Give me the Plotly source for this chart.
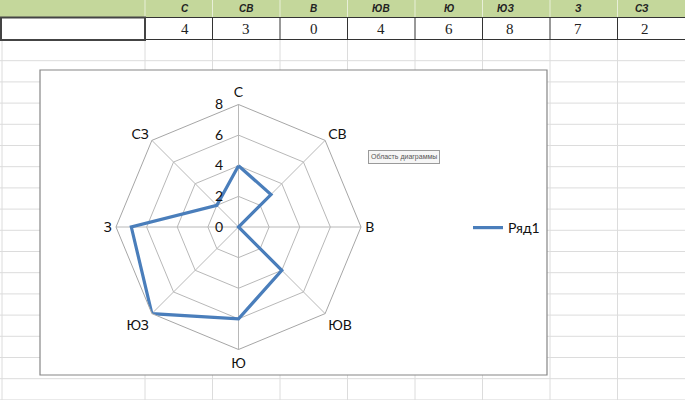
import plotly.graph_objects as go

# ---- data ----
directions = ["С", "СВ", "В", "ЮВ", "Ю", "ЮЗ", "З", "СЗ"]
values = [4, 3, 0, 4, 6, 8, 7, 2]
series_name = "Ряд1"
radial_ticks = [0, 2, 4, 6, 8]

W, H = 685, 400
def px(x): return x / W
def py(y): return 1 - y / H

fig = go.Figure()

# radar chart series (closed polygon)
fig.add_trace(go.Scatterpolar(
    r=values + values[:1],
    theta=directions + directions[:1],
    mode="lines",
    name=series_name,
    line=dict(color="#4a7ebb", width=3.2),
))

shapes = []
annotations = []
# spreadsheet gridlines
y = 60.7
while y < H:
    shapes.append(dict(type="line", xref="paper", yref="paper", x0=0, x1=1,
                       y0=py(y), y1=py(y), line=dict(color="#dcdcdc", width=1), layer="below"))
    y += 21.2
col_edges = [145 + 67.5 * i for i in range(len(directions) + 1)]
for x in [2] + col_edges[:-1]:
    shapes.append(dict(type="line", xref="paper", yref="paper", x0=px(x), x1=px(x),
                       y0=0, y1=py(40), line=dict(color="#dcdcdc", width=1), layer="below"))
# header row
shapes.append(dict(type="rect", xref="paper", yref="paper", x0=0, x1=1,
                   y0=py(17), y1=1, line=dict(width=0), fillcolor="#c4d79b", layer="below"))
for x in [145] + col_edges[1:-1]:
    shapes.append(dict(type="line", xref="paper", yref="paper", x0=px(x), x1=px(x),
                       y0=py(17), y1=1, line=dict(color="#e8efd8", width=1), layer="below"))
# value row borders
shapes.append(dict(type="line", xref="paper", yref="paper", x0=0, x1=1,
                   y0=py(17.5), y1=py(17.5), line=dict(color="#333", width=1), layer="below"))
shapes.append(dict(type="line", xref="paper", yref="paper", x0=0, x1=1,
                   y0=py(39.5), y1=py(39.5), line=dict(color="#333", width=1), layer="below"))
for x in col_edges[1:-1]:
    shapes.append(dict(type="line", xref="paper", yref="paper", x0=px(x), x1=px(x),
                       y0=py(39.5), y1=py(17.5), line=dict(color="#333", width=1), layer="below"))
for i, (d, v) in enumerate(zip(directions, values)):
    cx = (col_edges[i] + col_edges[i + 1]) / 2
    annotations.append(dict(text=f"<b><i>{d}</i></b>", xref="paper", yref="paper",
                            x=px(cx), y=py(8.5), showarrow=False, yanchor="middle",
                            font=dict(family="Liberation Sans", size=10, color="#222")))
    annotations.append(dict(text=str(v), xref="paper", yref="paper",
                            x=px(cx), y=py(29), showarrow=False, yanchor="middle",
                            font=dict(family="Liberation Serif", size=15, color="#222")))
# chart area frame
shapes.append(dict(type="rect", xref="paper", yref="paper", x0=px(40), x1=px(547),
                   y0=py(375), y1=py(70), line=dict(color="#868686", width=1.2),
                   fillcolor="white", layer="below"))
# selected cell
shapes.append(dict(type="rect", xref="paper", yref="paper", x0=px(1), x1=px(145),
                   y0=py(40), y1=py(17.5), line=dict(color="#444", width=2), layer="above"))

annotations.append(dict(text="Область диаграммы", xref="paper", yref="paper",
                        x=px(404), y=py(157), showarrow=False,
                        font=dict(family="Liberation Sans", size=7, color="#555"),
                        bgcolor="#f6f6f6", bordercolor="#9a9a9a", borderwidth=1, borderpad=2))

fig.update_layout(
    width=W, height=H,
    margin=dict(l=0, r=0, t=0, b=0),
    paper_bgcolor="white",
    font=dict(family="Lato", size=13, color="#111"),
    shapes=shapes,
    annotations=annotations,
    polar=dict(
        domain=dict(x=[px(116), px(361)], y=[py(349.5), py(104.5)]),
        bgcolor="white",
        gridshape="linear",
        angularaxis=dict(
            direction="clockwise", rotation=90,
            showline=True, linecolor="#a6a6a6", linewidth=1,
            gridcolor="#b8b8b8", gridwidth=1,
            ticks="outside", ticklen=1, tickcolor="rgba(0,0,0,0)",
            tickfont=dict(family="Lato", size=14, color="#111"),
        ),
        radialaxis=dict(
            range=[0, 8], tickvals=radial_ticks, angle=90, side="counterclockwise",
            tickangle=90,
            ticks="outside", ticklen=10, tickcolor="rgba(0,0,0,0)",
            showline=False, gridcolor="#b8b8b8", gridwidth=1,
            tickfont=dict(family="Lato", size=14, color="#111"),
        ),
    ),
    showlegend=True,
    legend=dict(x=px(468), y=py(228), xanchor="left", yanchor="middle",
                font=dict(family="Lato", size=14, color="#111"),
                bgcolor="rgba(0,0,0,0)", itemwidth=30),
)

fig.write_html("out.html")
